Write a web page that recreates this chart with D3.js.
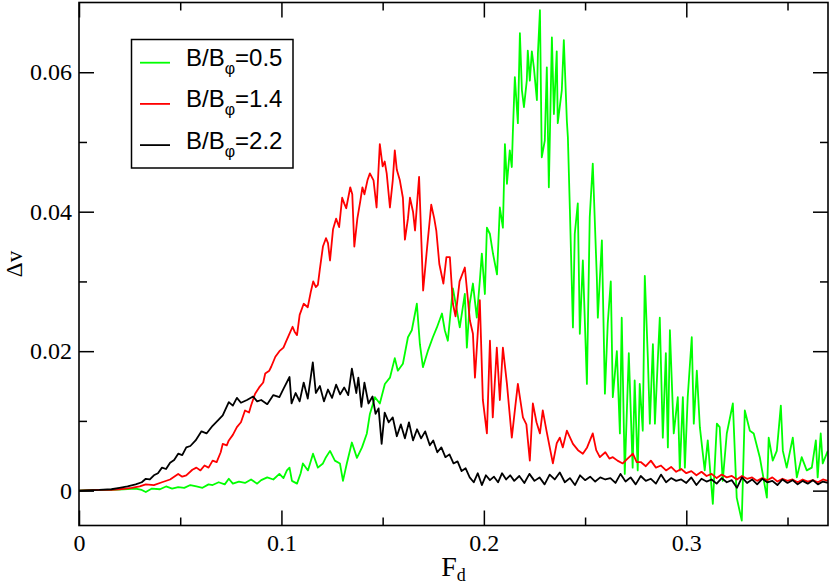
<!DOCTYPE html>
<html>
<head>
<meta charset="utf-8">
<script src="https://cdn.jsdelivr.net/npm/d3@7"></script>
<style>
  body { margin: 0; background: #fff; }
</style>
</head>
<body>
<div id="chart"></div>
<script>
// tick values and labels
const fdMajor = [0, 0.1, 0.2, 0.3];
const fdMinor = [0.05, 0.15, 0.25, 0.35];
const fdLabels = ['0', '0.1', '0.2', '0.3'];
const dvMajor = [0, 0.02, 0.04, 0.06];
const dvMinor = [0.01, 0.03, 0.05];
const dvLabels = ['0', '0.02', '0.04', '0.06'];

// series names / colours (legend order = draw order)
const seriesRatio = ['0.5', '1.4', '2.2'];
const seriesColor = ['#00ff00', '#ff0000', '#000000'];

// [F_d, delta v]
const green = [
  [0,0],[0.008,0.0001],[0.016,0.0001],[0.022,0.0002],[0.028,0.0003],[0.031,0.0001],[0.033,-0.0002],[0.036,0.0003],
  [0.040,0.0002],[0.043,0.0006],[0.046,0.0003],[0.049,0.0005],[0.052,0.0004],[0.055,0.0008],[0.058,0.0006],[0.061,0.0004],
  [0.064,0.0009],[0.066,0.0008],[0.069,0.0012],[0.072,0.0009],[0.074,0.0017],[0.076,0.0010],[0.079,0.0013],[0.082,0.0011],
  [0.085,0.0016],[0.088,0.0010],[0.090,0.0015],[0.093,0.0019],[0.096,0.0016],[0.099,0.0024],[0.101,0.0018],[0.1027,0.0029],
  [0.104,0.0033],[0.1052,0.0014],[0.1077,0.0010],[0.1095,0.0025],[0.1106,0.0039],[0.1131,0.0029],[0.1156,0.0053],[0.118,0.0033],
  [0.1205,0.0039],[0.122,0.0048],[0.124,0.0057],[0.1264,0.0043],[0.1289,0.0039],[0.1304,0.0014],[0.1323,0.0039],[0.1348,0.0069],
  [0.1373,0.0047],[0.1398,0.0062],[0.1422,0.0082],[0.1437,0.011],[0.1462,0.0134],[0.1486,0.0125],[0.1511,0.0153],[0.1536,0.0162],
  [0.156,0.019],[0.1575,0.0172],[0.160,0.0182],[0.1625,0.022],[0.1644,0.023],[0.1669,0.0268],[0.1684,0.021],[0.1699,0.0177],
  [0.1723,0.020],[0.1748,0.022],[0.1768,0.0234],[0.1793,0.0254],[0.1807,0.023],[0.1822,0.0215],[0.1847,0.029],[0.1867,0.0258],
  [0.1881,0.0234],[0.1906,0.0282],[0.1916,0.0205],[0.193,0.0268],[0.1946,0.0297],[0.1965,0.0248],[0.198,0.0301],[0.199,0.034],
  [0.2005,0.0282],[0.2015,0.0377],[0.203,0.0368],[0.2045,0.034],[0.2065,0.031],[0.2079,0.0406],[0.2094,0.0377],[0.2104,0.0497],
  [0.2114,0.044],[0.2128,0.0488],[0.2138,0.0464],[0.2143,0.0512],[0.2153,0.0593],[0.2168,0.0527],[0.2178,0.0656],[0.2188,0.0574],
  [0.2198,0.055],[0.2212,0.0588],[0.2217,0.0631],[0.2227,0.0588],[0.2237,0.063],[0.2247,0.0607],[0.2262,0.056],[0.2267,0.0627],
  [0.2277,0.0689],[0.2286,0.0478],[0.2301,0.0502],[0.2311,0.0607],[0.2321,0.0435],[0.2336,0.065],[0.2346,0.054],[0.2360,0.063],
  [0.2365,0.0527],[0.2385,0.0574],[0.2395,0.0646],[0.2410,0.053],[0.2415,0.0507],[0.2425,0.0402],[0.2440,0.0234],[0.2449,0.0368],
  [0.2464,0.0412],[0.2474,0.0225],[0.2489,0.033],[0.2509,0.0153],[0.2523,0.0392],[0.2538,0.0469],[0.2558,0.0306],[0.2563,0.0248],
  [0.2583,0.0359],[0.2598,0.0139],[0.2612,0.024],[0.2627,0.030],[0.2637,0.0134],[0.2657,0.020],[0.2672,0.0082],[0.2681,0.0248],
  [0.2696,0.0024],[0.2716,0.0197],[0.2735,0.0033],[0.2745,0.0158],[0.2760,0.0029],[0.2770,0.0153],[0.2785,0.0086],[0.2795,0.0308],
  [0.2810,0.0191],[0.2820,0.0096],[0.2835,0.021],[0.2845,0.0096],[0.2859,0.0186],[0.2869,0.0248],[0.2884,0.0076],[0.2899,0.0197],
  [0.2909,0.0062],[0.2919,0.023],[0.2938,0.0082],[0.2958,0.0134],[0.2968,0.0029],[0.2983,0.0134],[0.2993,0.0033],[0.3007,0.0134],
  [0.3027,0.022],[0.3037,0.0096],[0.3052,0.0172],[0.3067,0.0091],[0.3091,0.0029],[0.3106,0.0072],[0.3131,-0.0019],[0.3151,0.0096],
  [0.3165,0.0091],[0.3180,0.0014],[0.3200,0.0082],[0.3230,0.0125],[0.3249,-0.001],[0.3274,-0.0043],[0.3289,0.0115],[0.3314,0.0086],
  [0.3333,0.0082],[0.3363,0.0048],[0.3398,-0.001],[0.3407,0.0076],[0.3427,0.0043],[0.3447,0.0057],[0.3467,0.0122],[0.3477,0.0057],
  [0.3496,0.0033],[0.3526,0.0076],[0.3546,0.0019],[0.3570,0.0048],[0.3595,0.0029],[0.3620,0.0033],[0.3640,0.0072],[0.3649,0.0019],
  [0.3664,0.0082],[0.3674,0.0039],[0.3699,0.0057]
];

const red = [
  [0,0],[0.010,0.0001],[0.016,0.0001],[0.020,0.0002],[0.023,0.0003],[0.026,0.0004],[0.030,0.0006],[0.033,0.0009],
  [0.037,0.0008],[0.041,0.0012],[0.045,0.0016],[0.049,0.0024],[0.051,0.0020],[0.053,0.0022],[0.056,0.0030],[0.058,0.0033],
  [0.060,0.0029],[0.062,0.0036],[0.064,0.0033],[0.066,0.0043],[0.068,0.0041],[0.070,0.0055],[0.071,0.0067],[0.073,0.0065],
  [0.074,0.0072],[0.076,0.0080],[0.078,0.0091],[0.080,0.0098],[0.082,0.0115],[0.084,0.0112],[0.085,0.0122],[0.087,0.0139],
  [0.089,0.0148],[0.091,0.0155],[0.092,0.0168],[0.094,0.0172],[0.095,0.0178],[0.097,0.0192],[0.099,0.020],[0.101,0.0205],
  [0.102,0.0212],[0.104,0.0225],[0.1055,0.0235],[0.1065,0.0228],[0.1077,0.0223],[0.109,0.0252],[0.111,0.0268],[0.113,0.0263],
  [0.1145,0.0285],[0.1157,0.030],[0.117,0.0292],[0.118,0.0295],[0.119,0.0318],[0.1205,0.035],[0.122,0.0362],[0.123,0.0355],
  [0.124,0.033],[0.1255,0.0375],[0.127,0.039],[0.1285,0.0378],[0.130,0.042],[0.131,0.0412],[0.132,0.0405],[0.134,0.0435],
  [0.135,0.0425],[0.136,0.035],[0.1375,0.039],[0.139,0.0416],[0.140,0.0435],[0.141,0.0425],[0.1425,0.0445],[0.1437,0.0455],
  [0.1455,0.0445],[0.147,0.0406],[0.1486,0.0497],[0.150,0.0465],[0.151,0.0472],[0.152,0.0455],[0.1536,0.0406],[0.155,0.0445],
  [0.156,0.0488],[0.157,0.046],[0.1585,0.0445],[0.160,0.042],[0.161,0.036],[0.1625,0.039],[0.1635,0.042],[0.165,0.040],
  [0.166,0.0373],[0.168,0.045],[0.170,0.0287],[0.172,0.035],[0.174,0.041],[0.1755,0.039],[0.1765,0.0373],[0.178,0.0325],
  [0.180,0.0297],[0.1815,0.0335],[0.1832,0.0335],[0.1847,0.0268],[0.186,0.025],[0.188,0.030],[0.1906,0.032],[0.1931,0.0244],
  [0.1946,0.0225],[0.1956,0.0162],[0.198,0.0273],[0.1995,0.013],[0.2015,0.0082],[0.203,0.0215],[0.2044,0.0105],[0.2064,0.0205],
  [0.2079,0.013],[0.2094,0.0205],[0.2114,0.0153],[0.2138,0.0076],[0.2155,0.012],[0.2168,0.0153],[0.2193,0.0105],[0.221,0.0095],
  [0.2227,0.0043],[0.2242,0.0125],[0.226,0.0098],[0.2277,0.0082],[0.2291,0.0115],[0.231,0.0085],[0.2341,0.0039],[0.236,0.0068],
  [0.2375,0.0076],[0.239,0.0062],[0.241,0.0086],[0.244,0.0067],[0.2465,0.0058],[0.2489,0.0053],[0.251,0.0062],[0.2538,0.0082],
  [0.2555,0.0058],[0.2573,0.0048],[0.260,0.0055],[0.262,0.0046],[0.2637,0.0048],[0.266,0.0043],[0.2686,0.0039],[0.271,0.0046],
  [0.2736,0.0053],[0.2755,0.0041],[0.2775,0.0041],[0.280,0.0035],[0.2825,0.0043],[0.285,0.0033],[0.2875,0.0036],[0.290,0.0029],
  [0.2925,0.0034],[0.295,0.0027],[0.2975,0.0031],[0.300,0.0025],[0.3025,0.0028],[0.305,0.0022],[0.3075,0.0027],[0.310,0.0021],
  [0.3125,0.0024],[0.315,0.0018],[0.3175,0.0023],[0.320,0.0019],[0.3225,0.0021],[0.325,0.0016],[0.3275,0.0021],[0.330,0.0017],
  [0.3325,0.0019],[0.335,0.0014],[0.3375,0.0018],[0.340,0.0015],[0.3425,0.0019],[0.345,0.0013],[0.3475,0.0017],[0.350,0.0014],
  [0.3525,0.0016],[0.355,0.0012],[0.3575,0.0016],[0.360,0.0013],[0.3625,0.0015],[0.365,0.0012],[0.3675,0.0016],[0.370,0.0014]
];

const black = [
  [0,0],[0.010,0.0001],[0.016,0.0002],[0.020,0.0004],[0.024,0.0006],[0.028,0.0009],[0.031,0.0012],[0.033,0.0017],
  [0.035,0.0016],[0.037,0.0022],[0.039,0.0025],[0.041,0.0033],[0.043,0.0031],[0.045,0.0040],[0.047,0.0044],[0.049,0.0053],
  [0.051,0.0051],[0.053,0.0062],[0.055,0.0064],[0.0576,0.0072],[0.0605,0.0085],[0.063,0.0082],[0.066,0.0093],[0.069,0.0102],
  [0.071,0.0108],[0.074,0.0127],[0.076,0.0122],[0.078,0.0133],[0.080,0.0126],[0.083,0.0130],[0.086,0.0135],[0.088,0.0128],
  [0.090,0.0130],[0.093,0.0124],[0.096,0.0137],[0.099,0.0134],[0.101,0.0146],[0.104,0.0163],[0.105,0.0125],[0.107,0.0140],
  [0.109,0.0128],[0.111,0.0155],[0.113,0.0132],[0.1155,0.0184],[0.117,0.0140],[0.119,0.0150],[0.121,0.0128],[0.123,0.0145],
  [0.125,0.0133],[0.127,0.0152],[0.129,0.0138],[0.131,0.0148],[0.133,0.0137],[0.1348,0.0175],[0.137,0.0140],[0.138,0.0162],
  [0.1395,0.0120],[0.141,0.0155],[0.143,0.0125],[0.145,0.0135],[0.1465,0.0110],[0.148,0.0118],[0.1495,0.0067],[0.151,0.0112],
  [0.153,0.0098],[0.155,0.0105],[0.157,0.0078],[0.159,0.0095],[0.161,0.0075],[0.163,0.0098],[0.165,0.0072],[0.167,0.0088],
  [0.169,0.0075],[0.171,0.0085],[0.1733,0.0065],[0.175,0.0072],[0.177,0.0055],[0.179,0.0062],[0.181,0.0048],[0.183,0.0052],
  [0.185,0.0039],[0.187,0.0042],[0.189,0.0028],[0.191,0.0032],[0.193,0.0019],[0.195,0.0012],[0.197,0.0025],[0.199,0.0008],
  [0.201,0.0022],[0.203,0.0015],[0.205,0.0020],[0.207,0.0012],[0.209,0.0025],[0.211,0.0016],[0.213,0.0022],[0.215,0.0014],
  [0.2175,0.0021],[0.220,0.0011],[0.2225,0.0024],[0.225,0.0014],[0.2275,0.0019],[0.230,0.0009],[0.2325,0.0023],[0.235,0.0016],
  [0.2375,0.0026],[0.240,0.0012],[0.2425,0.0018],[0.245,0.0008],[0.2475,0.0022],[0.250,0.0015],[0.2525,0.0020],[0.255,0.0013],
  [0.2575,0.0019],[0.260,0.0016],[0.2625,0.0018],[0.265,0.0011],[0.2675,0.0024],[0.270,0.0013],[0.2725,0.0019],[0.275,0.0009],
  [0.2775,0.0021],[0.280,0.0014],[0.2825,0.0017],[0.285,0.0010],[0.2875,0.0023],[0.290,0.0012],[0.2925,0.0018],[0.295,0.0014],
  [0.2975,0.0016],[0.300,0.0011],[0.3025,0.0019],[0.305,0.0008],[0.3075,0.0017],[0.310,0.0013],[0.3125,0.0016],[0.315,0.0010],
  [0.3175,0.0018],[0.320,0.0012],[0.3225,0.0015],[0.325,0.0004],[0.3275,0.0019],[0.330,0.0011],[0.3325,0.0016],[0.335,0.0009],
  [0.3375,0.0017],[0.340,0.0012],[0.3425,0.0014],[0.345,0.0008],[0.3475,0.0016],[0.350,0.0011],[0.3525,0.0015],[0.355,0.0009],
  [0.3575,0.0014],[0.360,0.0010],[0.3625,0.0015],[0.365,0.0009],[0.3675,0.0013],[0.370,0.0011]
];

const series = [green, red, black];

const config = {
  width: 830, height: 588,
  margin: {top: 2.5, right: 2, bottom: 62.5, left: 79}
};
const w = config.width - config.margin.left - config.margin.right;
const h = config.height - config.margin.top - config.margin.bottom;
const serif = '"Liberation Serif", "Times New Roman", serif';
const sans = '"Liberation Sans", Arial, sans-serif';

const xScale = d3.scaleLinear().domain([0, 0.37]).range([0, w]);
const yScale = d3.scaleLinear().domain([-0.005, 0.07]).range([h, 0]);

const svg = d3.select('#chart').append('svg')
  .attr('width', config.width)
  .attr('height', config.height);

svg.append('rect').attr('width', config.width).attr('height', config.height).attr('fill', '#fff');

const g = svg.append('g')
  .attr('transform', `translate(${config.margin.left},${config.margin.top})`);

g.append('clipPath').attr('id', 'clip')
  .append('rect').attr('width', w).attr('height', h);

// lines, drawn green -> red -> black
const line = d3.line()
  .x(d => xScale(d[0]))
  .y(d => yScale(d[1]));

g.append('g').attr('clip-path', 'url(#clip)')
  .selectAll('path')
  .data(series)
  .join('path')
  .attr('fill', 'none')
  .attr('stroke', (d, i) => seriesColor[i])
  .attr('stroke-width', 1.8)
  .attr('stroke-linejoin', 'round')
  .attr('d', line);

// inward ticks on all four sides
function addAxis(axis, transform) {
  const ax = g.append('g').attr('transform', transform).call(axis);
  ax.select('.domain').remove();
  ax.selectAll('.tick line').attr('stroke', '#000').attr('stroke-width', 1.5);
  ax.selectAll('.tick text')
    .attr('fill', '#000')
    .style('font-family', serif)
    .style('font-size', '24px');
  return ax;
}
addAxis(d3.axisBottom(xScale).tickValues(fdMajor).tickSize(-15).tickPadding(8.5)
  .tickFormat((d, i) => fdLabels[i]), `translate(0,${h})`);
addAxis(d3.axisBottom(xScale).tickValues(fdMinor).tickSize(-8).tickFormat(''), `translate(0,${h})`);
addAxis(d3.axisTop(xScale).tickValues(fdMajor).tickSize(-15).tickFormat(''), 'translate(0,0)');
addAxis(d3.axisTop(xScale).tickValues(fdMinor).tickSize(-8).tickFormat(''), 'translate(0,0)');
addAxis(d3.axisLeft(yScale).tickValues(dvMajor).tickSize(-15).tickPadding(7)
  .tickFormat((d, i) => dvLabels[i]), 'translate(0,0)');
addAxis(d3.axisLeft(yScale).tickValues(dvMinor).tickSize(-8).tickFormat(''), 'translate(0,0)');
addAxis(d3.axisRight(yScale).tickValues(dvMajor).tickSize(-15).tickFormat(''), `translate(${w},0)`);
addAxis(d3.axisRight(yScale).tickValues(dvMinor).tickSize(-8).tickFormat(''), `translate(${w},0)`);

// frame
g.append('rect')
  .attr('width', w).attr('height', h)
  .attr('fill', 'none').attr('stroke', '#000').attr('stroke-width', 1.6);

// axis titles
const fd = svg.append('text')
  .attr('x', config.margin.left + w / 2)
  .attr('y', 576)
  .attr('text-anchor', 'middle')
  .style('font-family', serif)
  .style('font-size', '28px');
fd.append('tspan').text('F');
fd.append('tspan').attr('dy', 5).style('font-size', '18px').text('d');

svg.append('text')
  .attr('transform', `translate(22,${config.margin.top + h / 2}) rotate(-90)`)
  .attr('text-anchor', 'middle')
  .style('font-family', serif)
  .style('font-size', '23px')
  .text('\u0394v');

// legend
const legend = svg.append('g');
legend.append('rect')
  .attr('x', 131.5).attr('y', 39.5).attr('width', 161.5).attr('height', 128.5)
  .attr('fill', '#fff').attr('stroke', '#000').attr('stroke-width', 1.5);

seriesRatio.forEach((r, i) => {
  const yy = 62.7 + i * 41.2;
  legend.append('line')
    .attr('x1', 140).attr('x2', 170).attr('y1', yy).attr('y2', yy)
    .attr('stroke', seriesColor[i]).attr('stroke-width', 1.8);
  const t = legend.append('text')
    .attr('x', 186).attr('y', yy + 3.5)
    .style('font-family', sans)
    .style('font-size', '24px');
  t.append('tspan').text('B/B');
  t.append('tspan').attr('dy', 8).style('font-size', '16px').text('\u03c6');
  t.append('tspan').attr('dy', -8).text('=' + r);
});
</script>
</body>
</html>
